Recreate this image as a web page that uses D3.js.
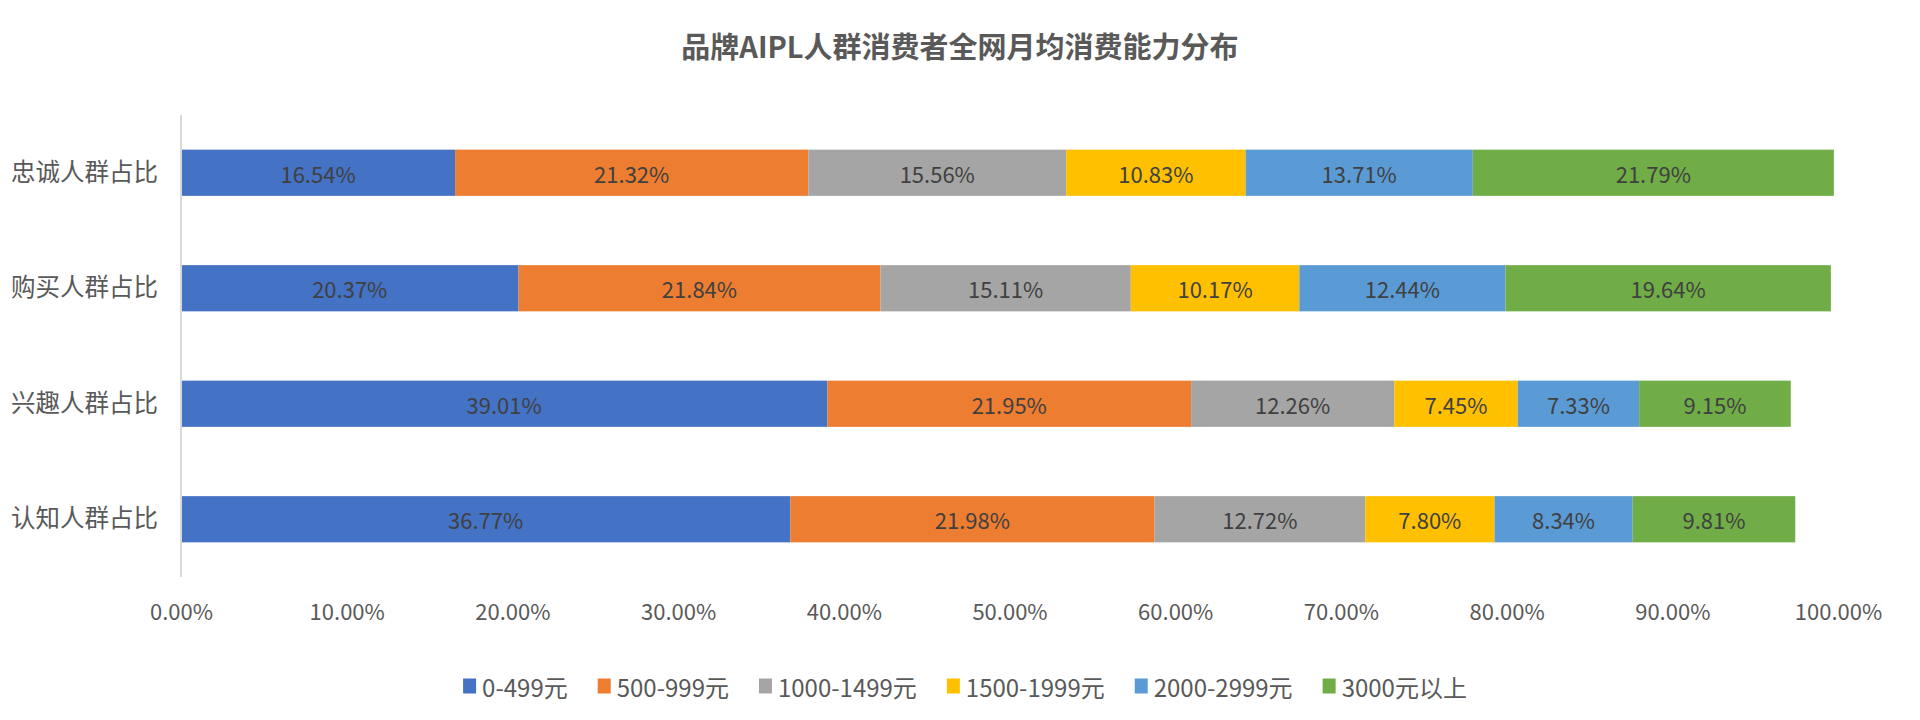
<!DOCTYPE html>
<html><head><meta charset="utf-8">
<script src="https://cdn.jsdelivr.net/npm/d3@7"></script>
<style>html,body{margin:0;padding:0;background:#fff;}svg{display:block;}</style>
</head><body>
<svg id="chart" width="1920" height="720"></svg>
<script>
const title = "品牌AIPL人群消费者全网月均消费能力分布";
const categories = ["忠诚人群占比", "购买人群占比", "兴趣人群占比", "认知人群占比"];
const seriesNames = ["0-499元", "500-999元", "1000-1499元", "1500-1999元", "2000-2999元", "3000元以上"];
const seriesColors = ["#4472C4", "#ED7D31", "#A5A5A5", "#FFC000", "#5B9BD5", "#70AD47"];
// values per series, in category order above (percent)
const s0_499 = [16.54, 20.37, 39.01, 36.77];
const s500_999 = [21.32, 21.84, 21.95, 21.98];
const s1000_1499 = [15.56, 15.11, 12.26, 12.72];
const s1500_1999 = [10.83, 10.17, 7.45, 7.80];
const s2000_2999 = [13.71, 12.44, 7.33, 8.34];
const s3000plus = [21.79, 19.64, 9.15, 9.81];
const tickValues = [0, 10, 20, 30, 40, 50, 60, 70, 80, 90, 100];

const seriesValues = [s0_499, s500_999, s1000_1499, s1500_1999, s2000_2999, s3000plus];
const font = "'Noto Sans CJK SC', 'Noto Sans', sans-serif";

const svg = d3.select("#chart");
const pLeft = 181, pRight = 1838, pTop = 115, pBottom = 577;

const x = d3.scaleLinear().domain([0, 100]).range([pLeft, pRight]);
const y = d3.scaleBand().domain(categories).range([pTop, pBottom]).paddingInner(0.6).paddingOuter(0.3);

// title
svg.append("text").attr("x", 960).attr("y", 45).attr("text-anchor", "middle")
  .attr("dominant-baseline", "central").attr("font-family", font).attr("font-size", 29)
  .attr("font-weight", "bold").attr("fill", "#595959").text(title);

// stacked data
const table = categories.map((c, i) => {
  const o = {cat: c};
  seriesNames.forEach((s, j) => o[s] = seriesValues[j][i]);
  return o;
});
const stack = d3.stack().keys(seriesNames)(table);

const g = svg.append("g");
stack.forEach((layer, j) => {
  const lg = g.append("g");
  lg.selectAll("rect").data(layer).join("rect")
    .attr("x", d => x(d[0])).attr("y", d => y(d.data.cat))
    .attr("width", d => x(d[1]) - x(d[0])).attr("height", y.bandwidth())
    .attr("fill", seriesColors[j]);
  lg.selectAll("text").data(layer).join("text")
    .attr("x", d => (x(d[0]) + x(d[1])) / 2).attr("y", d => y(d.data.cat) + y.bandwidth() / 2)
    .attr("text-anchor", "middle").attr("dominant-baseline", "central")
    .attr("font-family", font).attr("font-size", 22).attr("fill", "#404040")
    .text(d => (d[1] - d[0]).toFixed(2) + "%");
});

// vertical category axis line
svg.append("line").attr("x1", pLeft).attr("x2", pLeft).attr("y1", pTop).attr("y2", pBottom)
  .attr("stroke", "#D9D9D9").attr("stroke-width", 2);

// category labels
const yAxis = svg.append("g").attr("transform", `translate(${pLeft},0)`)
  .call(d3.axisLeft(y).tickSize(0).tickPadding(23));
yAxis.select(".domain").remove();
yAxis.selectAll("text").attr("font-family", font).attr("font-size", 24.5).attr("fill", "#595959");

// x axis labels
const xAxis = svg.append("g").attr("transform", `translate(0,${pBottom})`)
  .call(d3.axisBottom(x).tickValues(tickValues).tickSize(0).tickPadding(0).tickFormat(d => d.toFixed(2) + "%"));
xAxis.select(".domain").remove();
xAxis.selectAll("text").attr("font-family", font).attr("font-size", 22).attr("fill", "#595959")
  .attr("dy", null).attr("y", 33).attr("dominant-baseline", "central");

// legend
const legend = svg.append("g");
const items = legend.selectAll("g").data(seriesNames).join("g");
items.append("rect").attr("width", 13).attr("height", 15).attr("y", -7.5)
  .attr("fill", (d, i) => seriesColors[i]);
items.append("text").attr("x", 19).attr("dominant-baseline", "central")
  .attr("font-family", font).attr("font-size", 24).attr("fill", "#595959").text(d => d);
const widths = [];
items.each(function() { widths.push(19 + this.querySelector("text").getComputedTextLength()); });
const gap = 30;
const total = d3.sum(widths) + gap * (widths.length - 1);
let start = 965 - total / 2;
items.attr("transform", (d, i) => {
  const t = `translate(${start},686)`;
  start += widths[i] + gap;
  return t;
});
</script>
</body></html>
